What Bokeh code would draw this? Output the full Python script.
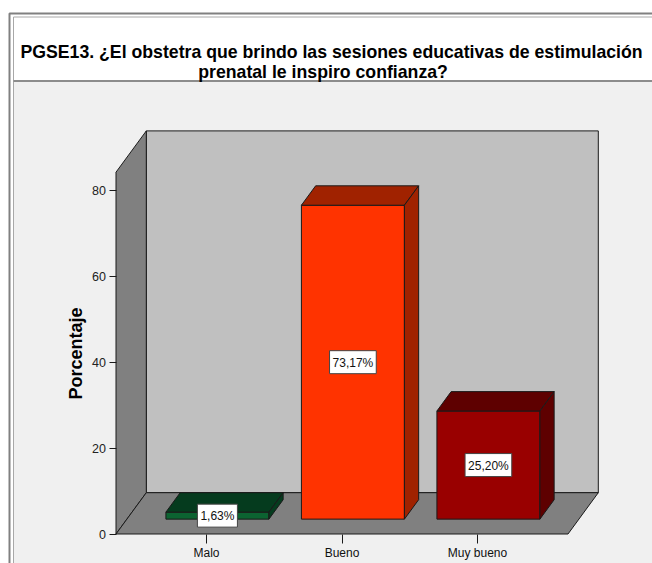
from bokeh.plotting import figure
from bokeh.models import Range1d, LinearAxis, FixedTicker, Label
from bokeh.core.properties import value
from bokeh.embed import file_html
from bokeh.resources import INLINE

# ---- data -------------------------------------------------------------
categories = ["Malo", "Bueno", "Muy bueno"]
percentages = [1.63, 73.17, 25.20]
value_labels = ["1,63%", "73,17%", "25,20%"]
y_ticks = [0, 20, 40, 60, 80]
title_lines = [
    "PGSE13. ¿El obstetra que brindo las sesiones educativas de estimulación",
    "prenatal  le inspiro confianza?",
]

# ---- styles -----------------------------------------------------------
front_colors = ["#0c6331", "#ff3300", "#990000"]
shade_colors = ["#053b1e", "#a02200", "#5e0000"]
FONT = "Liberation Sans"
EDGE = "#1a1a1a"

W, H = 652, 563
# canvas mapping: category 0 at x=206px, value 0 at y=533.5px
X0, SX = 206.0, 135.5
Y0, SY = 533.5, 4.29


def px2x(px):
    return (px - X0) / SX


def py2y(py):
    return (Y0 - py) / SY


p = figure(
    width=W, height=H, output_backend="svg", toolbar_location=None,
    x_range=Range1d(px2x(0), px2x(W)), y_range=Range1d(py2y(H), py2y(0)),
    x_axis_location=None, y_axis_location=None, min_border=0,
    background_fill_color="white", border_fill_color="white",
    outline_line_color=None,
)
p.grid.visible = False

# ---- panel: chart area, frame lines, title separator -----------------
p.quad(left=px2x(13.5), right=px2x(W), top=py2y(81.5), bottom=py2y(H),
       fill_color="#f0f0f0", line_color=None)
p.line([px2x(9), px2x(9), px2x(W)], [py2y(H), py2y(13), py2y(13)],
       line_color="#808080", line_width=2)
p.line([px2x(13), px2x(13), px2x(W)], [py2y(H), py2y(16.5), py2y(16.5)],
       line_color="#a8a8a8", line_width=1)
p.line([px2x(13), px2x(W)], [py2y(80.5), py2y(80.5)],
       line_color="#8c8c8c", line_width=2)

# ---- 3D box: floor, side wall and back wall --------------------------
XL, XR = px2x(115.5), px2x(567.5)
DX, DY = 30.3 / SX, 41.3 / SY
WALL_TOP = py2y(171.7)

box_xs = [
    [XL + DX, XR + DX, XR + DX, XL + DX],          # back wall
    [XL, XL + DX, XL + DX, XL],                    # side wall
    [XL, XR, XR + DX, XL + DX],                    # floor
]
box_ys = [
    [DY, DY, WALL_TOP + DY, WALL_TOP + DY],
    [0, DY, WALL_TOP + DY, WALL_TOP],
    [0, 0, DY, DY],
]
p.patches(box_xs, box_ys, fill_color=["#c0c0c0", "#808080", "#808080"],
          line_color=EDGE, line_width=1)

# ---- bars (front face, top face, right side face) --------------------
F1, F2 = 0.36, 0.83          # front / back depth of the bars
BW = 103 / SX                # bar width
ddx, ddy = (F2 - F1) * DX, (F2 - F1) * DY

bar_xs, bar_ys, bar_colors = [], [], []
for i, v in enumerate(percentages):
    cx = i + F1 * DX
    x0, x1 = cx - BW / 2, cx + BW / 2
    b = F1 * DY
    t = b + v
    bar_xs += [[x0, x1, x1, x0],
               [x0, x1, x1 + ddx, x0 + ddx],
               [x1, x1 + ddx, x1 + ddx, x1]]
    bar_ys += [[b, b, t, t],
               [t, t, t + ddy, t + ddy],
               [b, b + ddy, t + ddy, t]]
    bar_colors += [front_colors[i], shade_colors[i], shade_colors[i]]

p.patches(bar_xs, bar_ys, fill_color=bar_colors, line_color=EDGE, line_width=1)

# ---- value labels ----------------------------------------------------
for i, (v, txt) in enumerate(zip(percentages, value_labels)):
    p.add_layout(Label(
        x=i + F1 * DX, y=F1 * DY + v / 2, text=txt,
        text_align="center", text_baseline="middle",
        text_font=FONT, text_font_size="12px", text_color="#111111",
        background_fill_color="white", border_line_color="#444444",
        border_line_width=1, padding=(3, 3, 5, 4),
    ))

# ---- axes ------------------------------------------------------------
yaxis = LinearAxis(
    fixed_location=XL, bounds=(0, WALL_TOP),
    ticker=FixedTicker(ticks=y_ticks),
    axis_label="Porcentaje",
)
yaxis.axis_line_color = None
yaxis.major_tick_out = 7
yaxis.major_tick_in = 0
yaxis.major_tick_line_color = EDGE
yaxis.minor_tick_line_color = None
yaxis.major_label_standoff = 3
yaxis.major_label_text_font = FONT
yaxis.major_label_text_font_size = "12.5px"
yaxis.major_label_text_color = "#222222"
yaxis.axis_label_text_font = FONT
yaxis.axis_label_text_font_size = "18px"
yaxis.axis_label_text_font_style = "bold"
yaxis.axis_label_text_color = "#000000"
yaxis.axis_label_standoff = 4
p.add_layout(yaxis, "left")

xaxis = LinearAxis(
    fixed_location=0, bounds=(XL, XR),
    ticker=FixedTicker(ticks=list(range(len(categories)))),
    major_label_overrides={i: c for i, c in enumerate(categories)},
)
xaxis.axis_line_color = None
xaxis.major_tick_out = 9
xaxis.major_tick_in = 0
xaxis.major_tick_line_color = EDGE
xaxis.minor_tick_line_color = None
xaxis.major_label_standoff = 3
xaxis.major_label_text_font = FONT
xaxis.major_label_text_font_size = "12px"
xaxis.major_label_text_color = "#111111"
p.add_layout(xaxis, "below")

# ---- title -----------------------------------------------------------
p.text(x=[px2x(331), px2x(325)], y=[py2y(51), py2y(71.5)], text=title_lines,
       text_font=value(FONT), text_font_style="bold", text_font_size="17.7px",
       text_align="center", text_baseline="alphabetic", text_color="#000000")

open("out.html", "w").write(file_html(p, INLINE))
